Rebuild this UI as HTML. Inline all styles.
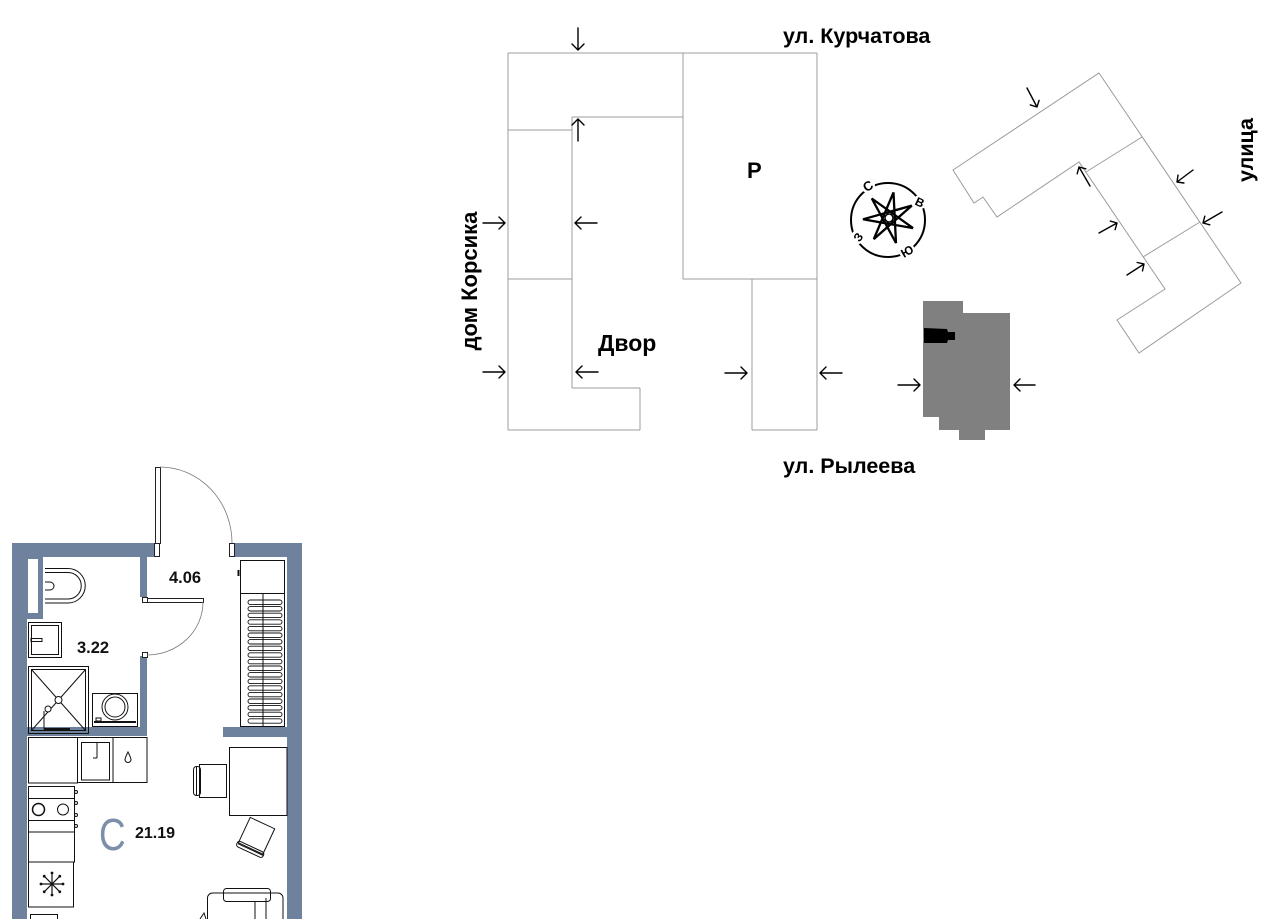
<!DOCTYPE html>
<html>
<head>
<meta charset="utf-8">
<style>
html,body{margin:0;padding:0;background:#fff;}
body{width:1280px;height:919px;overflow:hidden;}
svg{display:block;}
text{font-family:"Liberation Sans", sans-serif;}
</style>
</head>
<body>
<svg width="1280" height="919" viewBox="0 0 1280 919" xmlns="http://www.w3.org/2000/svg">
<!-- ============ SITE PLAN ============ -->
<g stroke="#9c9c9c" stroke-width="1" fill="none">
  <line x1="508" y1="53" x2="817" y2="53"/>
  <line x1="817" y1="53" x2="817" y2="430"/>
  <line x1="752" y1="430" x2="817" y2="430"/>
  <line x1="752" y1="279" x2="752" y2="430"/>
  <line x1="683" y1="279" x2="817" y2="279"/>
  <line x1="683" y1="53" x2="683" y2="279"/>
  <line x1="572" y1="117" x2="683" y2="117"/>
  <line x1="572" y1="117" x2="572" y2="388"/>
  <line x1="572" y1="388" x2="640" y2="388"/>
  <line x1="640" y1="388" x2="640" y2="430"/>
  <line x1="508" y1="430" x2="640" y2="430"/>
  <line x1="508" y1="53" x2="508" y2="430"/>
  <line x1="508" y1="130" x2="572" y2="130"/>
  <line x1="508" y1="279" x2="572" y2="279"/>
  <!-- rotated building -->
  <polygon points="1099,73 1241,283 1139,353 1117,320 1165,289 1079,162 997,217 983,197 974,203 953,170"/>
  <line x1="1142" y1="137" x2="1086" y2="172"/>
  <line x1="1200" y1="222" x2="1143" y2="257"/>
</g>

<!-- gray building -->
<polygon points="923,301 963,301 963,313 1010,313 1010,430 985,430 985,440 959,440 959,430 939,430 939,417 923,417" fill="#808080"/>
<polygon points="924,328 947,329 948,332 955,332 955,340 948,340 947,343 924,343" fill="#000"/>

<!-- arrows -->
<g stroke="#000" stroke-width="1.4" fill="none" stroke-linecap="round" stroke-linejoin="round">
  <path d="M578,28 V50 M572,44 L578,50 L584,44"/>
  <path d="M578,141 V119 M572,125 L578,119 L584,125"/>
  <path d="M483,223 H505 M499,217 L505,223 L499,229"/>
  <path d="M597,223 H575 M581,217 L575,223 L581,229"/>
  <path d="M483,372 H505 M499,366 L505,372 L499,378"/>
  <path d="M598,372 H576 M582,366 L576,372 L582,378"/>
  <path d="M725,373 H747 M741,367 L747,373 L741,379"/>
  <path d="M842,373 H820 M826,367 L820,373 L826,379"/>
  <path d="M898,385 H920 M914,379 L920,385 L914,391"/>
  <path d="M1035,385 H1014 M1020,379 L1014,385 L1020,391"/>
  <path d="M1027,88 L1037,107 M1039.1,100.3 L1037,107 L1030.3,104.9"/>
  <path d="M1193,170 L1177,182 M1183.9,183 L1177,182 L1178,175.1"/>
  <path d="M1222,212 L1203,223 M1209.8,224.8 L1203,223 L1204.8,216.2"/>
  <path d="M1090,186 L1079,167 M1077.2,173.8 L1079,167 L1085.8,168.8"/>
  <path d="M1099,233 L1117,223 M1110.3,221.1 L1117,223 L1115.1,229.7"/>
  <path d="M1127,275 L1144,264 M1137.2,262.5 L1144,264 L1142.5,270.9"/>
</g>

<!-- compass -->
<g>
  <circle cx="888" cy="220" r="37" fill="none" stroke="#000" stroke-width="2"/>
  <circle cx="868" cy="186" r="7" fill="#fff"/>
  <circle cx="920" cy="202" r="7" fill="#fff"/>
  <circle cx="858" cy="237" r="7" fill="#fff"/>
  <circle cx="907" cy="251" r="8" fill="#fff"/>
  <path d="M893.5,192.4 L896,243 L871.8,198.5 L913,228.1 L863,219.3 L911.8,205.6 L873.8,239.1 Z" fill="none" stroke="#000" stroke-width="2.3" stroke-linejoin="miter"/>
  <circle cx="889" cy="218" r="4" fill="#fff" stroke="#000" stroke-width="1.5"/>
  <text x="868" y="190.5" font-size="13" font-weight="bold" text-anchor="middle" transform="rotate(-30 868 186)">С</text>
  <text x="920" y="206.5" font-size="12" font-weight="bold" text-anchor="middle" transform="rotate(25 920 202)">В</text>
  <text x="858" y="241.5" font-size="12" font-weight="bold" text-anchor="middle" transform="rotate(-55 858 237)">З</text>
  <text x="907" y="255.5" font-size="12" font-weight="bold" text-anchor="middle" transform="rotate(-30 907 251)">Ю</text>
</g>

<!-- labels -->
<g font-weight="bold" fill="#000">
  <text x="783" y="43" font-size="21.5">ул. Курчатова</text>
  <text x="747" y="178" font-size="22">Р</text>
  <text x="598" y="351" font-size="23">Двор</text>
  <text x="783" y="473" font-size="21.5">ул. Рылеева</text>
  <text x="0" y="0" font-size="22" text-anchor="middle" transform="translate(477 281) rotate(-90)">дом Корсика</text>
  <text x="0" y="0" font-size="21.5" text-anchor="middle" transform="translate(1253 150) rotate(-90)">улица</text>
</g>

<!-- ============ FLOOR PLAN ============ -->
<g fill="#6e819d">
  <rect x="12" y="543" width="142" height="14"/>
  <rect x="235" y="543" width="67" height="14"/>
  <rect x="12" y="543" width="15" height="376"/>
  <rect x="287" y="543" width="15" height="376"/>
  <rect x="140" y="557" width="7" height="40"/>
  <rect x="140" y="656" width="7" height="80"/>
  <rect x="12" y="727" width="135" height="9"/>
  <rect x="223" y="727" width="79" height="10"/>
  <rect x="27" y="557" width="16" height="62"/>
</g>
<rect x="28" y="559" width="10" height="54" fill="#fff"/>

<g stroke="#222" stroke-width="1" fill="#fff">
  <rect x="154.5" y="543.5" width="5" height="13"/>
  <rect x="229.5" y="543.5" width="5" height="13"/>
  <rect x="142.5" y="597.5" width="5" height="5"/>
  <rect x="142.5" y="652.5" width="5" height="5"/>
  <rect x="155.5" y="467.5" width="5" height="76"/>
  <rect x="147.5" y="598.5" width="56" height="4"/>
</g>
<g stroke="#777" stroke-width="0.8" fill="none">
  <path d="M160,467 A72 76 0 0 1 232,543"/>
  <path d="M203,602 A56 53 0 0 1 147,655"/>
</g>

<g stroke="#111" stroke-width="1" fill="none">
  <!-- toilet -->
  <path d="M45,568.5 H68 A17.25 17.25 0 0 1 68,603 H45"/>
  <path d="M45,572.5 H68 A13.25 13.25 0 0 1 68,599 H45"/>
  <path d="M45,582 H50 A4 4 0 0 1 50,590 H45"/>
  <!-- sink -->
  <rect x="28.5" y="622.5" width="33" height="35"/>
  <rect x="31.5" y="625.5" width="27" height="29"/>
  <rect x="31" y="638.5" width="11" height="3"/>
  <!-- shower -->
  <rect x="28.5" y="666.5" width="60" height="67"/>
  <rect x="31.5" y="669.5" width="54" height="61"/>
  <line x1="31.5" y1="669.5" x2="85.5" y2="730.5"/>
  <line x1="85.5" y1="669.5" x2="31.5" y2="730.5"/>
  <circle cx="58.5" cy="700" r="3.5" fill="#fff"/>
  <circle cx="48" cy="709" r="3" fill="#fff"/>
  <line x1="44" y1="711" x2="44" y2="729"/>
  <line x1="44" y1="729" x2="70" y2="729" stroke-width="2"/>
  <!-- washer -->
  <rect x="92.5" y="693.5" width="45" height="33"/>
  <circle cx="115" cy="707" r="13"/>
  <circle cx="115" cy="707" r="10"/>
  <line x1="94" y1="722" x2="136" y2="722" stroke-width="2"/>
  <rect x="96" y="718" width="5" height="3"/>
  <!-- wardrobe -->
  <rect x="240.5" y="560.5" width="44" height="166"/>
  <line x1="240.5" y1="593.5" x2="284.5" y2="593.5"/>
  <line x1="263" y1="593.5" x2="263" y2="726.5"/>
  <g stroke-width="0.9">
    <rect x="248" y="600" width="34" height="4.4" rx="2.2"/>
    <rect x="248" y="606.6" width="34" height="4.4" rx="2.2"/>
    <rect x="248" y="613.2" width="34" height="4.4" rx="2.2"/>
    <rect x="248" y="619.8" width="34" height="4.4" rx="2.2"/>
    <rect x="248" y="626.4" width="34" height="4.4" rx="2.2"/>
    <rect x="248" y="633" width="34" height="4.4" rx="2.2"/>
    <rect x="248" y="639.6" width="34" height="4.4" rx="2.2"/>
    <rect x="248" y="646.2" width="34" height="4.4" rx="2.2"/>
    <rect x="248" y="652.8" width="34" height="4.4" rx="2.2"/>
    <rect x="248" y="659.4" width="34" height="4.4" rx="2.2"/>
    <rect x="248" y="666" width="34" height="4.4" rx="2.2"/>
    <rect x="248" y="672.6" width="34" height="4.4" rx="2.2"/>
    <rect x="248" y="679.2" width="34" height="4.4" rx="2.2"/>
    <rect x="248" y="685.8" width="34" height="4.4" rx="2.2"/>
    <rect x="248" y="692.4" width="34" height="4.4" rx="2.2"/>
    <rect x="248" y="699" width="34" height="4.4" rx="2.2"/>
    <rect x="248" y="705.6" width="34" height="4.4" rx="2.2"/>
    <rect x="248" y="712.2" width="34" height="4.4" rx="2.2"/>
    <rect x="248" y="718.8" width="34" height="4.4" rx="2.2"/>
  </g>
  <line x1="238.5" y1="570" x2="238.5" y2="576" stroke-width="2"/>
  <!-- kitchen -->
  <rect x="28.5" y="737.5" width="49" height="45.5"/>
  <rect x="28.5" y="786.5" width="46" height="45.5"/>
  <line x1="28.5" y1="798.5" x2="74.5" y2="798.5"/>
  <line x1="28.5" y1="820.5" x2="74.5" y2="820.5"/>
  <circle cx="38.5" cy="809.5" r="6" stroke-width="1.5"/>
  <circle cx="63" cy="809.5" r="5.5"/>
  <circle cx="76" cy="792" r="1.5"/>
  <circle cx="76" cy="803" r="1.5"/>
  <circle cx="76" cy="815" r="1.5"/>
  <circle cx="76" cy="826" r="1.5"/>
  <rect x="28.5" y="832" width="46" height="30"/>
  <rect x="28.5" y="862" width="45" height="45"/>
  <rect x="77.5" y="737.5" width="35.5" height="45"/>
  <rect x="81.5" y="742.5" width="28" height="37.5"/>
  <line x1="97" y1="742.5" x2="97" y2="758"/>
  <line x1="93" y1="758" x2="97" y2="758"/>
  <rect x="113" y="737.5" width="34" height="45"/>
  <path d="M128,752 C126,756 125,758 125,759.5 A3 3 0 0 0 131,759.5 C131,758 130,756 128,752 Z"/>
  <!-- snowflake -->
  <g stroke-width="1.2">
    <line x1="52" y1="873" x2="52" y2="895"/>
    <line x1="41" y1="884" x2="63" y2="884"/>
    <line x1="44.2" y1="876.2" x2="59.8" y2="891.8"/>
    <line x1="59.8" y1="876.2" x2="44.2" y2="891.8"/>
  </g>
  <g fill="#111" stroke="none">
    <circle cx="52" cy="873" r="1.4"/><circle cx="52" cy="895" r="1.4"/>
    <circle cx="41" cy="884" r="1.4"/><circle cx="63" cy="884" r="1.4"/>
    <circle cx="44.2" cy="876.2" r="1.4"/><circle cx="59.8" cy="891.8" r="1.4"/>
    <circle cx="59.8" cy="876.2" r="1.4"/><circle cx="44.2" cy="891.8" r="1.4"/>
  </g>
  <rect x="30.5" y="914.5" width="27" height="10"/>
  <!-- table & chairs -->
  <rect x="229.5" y="747.5" width="57.5" height="68"/>
  <rect x="199.5" y="764.5" width="27" height="33"/>
  <rect x="193.5" y="766.5" width="7" height="29" rx="3"/>
  <line x1="196.5" y1="767" x2="196.5" y2="795"/>
  <g transform="rotate(25 257 836)">
    <rect x="243" y="822" width="27" height="28"/>
    <rect x="242" y="848" width="29" height="6" rx="2.5"/>
    <line x1="243" y1="851" x2="271" y2="851"/>
  </g>
  <!-- armchair -->
  <path d="M207.5,925 V898 A5 5 0 0 1 212.5,893 H278 A5 5 0 0 1 283,898 V925"/>
  <rect x="223.5" y="888.5" width="47" height="13" rx="3"/>
  <line x1="255" y1="901.5" x2="255" y2="925"/>
  <line x1="266" y1="898" x2="266" y2="925"/>
  <path d="M200,919 L204,913 L206,919"/>
</g>

<!-- floor plan labels -->
<g font-weight="bold" fill="#111">
  <text x="169" y="583" font-size="16.5">4.06</text>
  <text x="77" y="653" font-size="16.5">3.22</text>
  <text x="135" y="838" font-size="16">21.19</text>
</g>
<text x="0" y="0" font-size="45" fill="#7b8eaa" transform="translate(99 850) scale(0.82 1)">С</text>
</svg>
</body>
</html>
